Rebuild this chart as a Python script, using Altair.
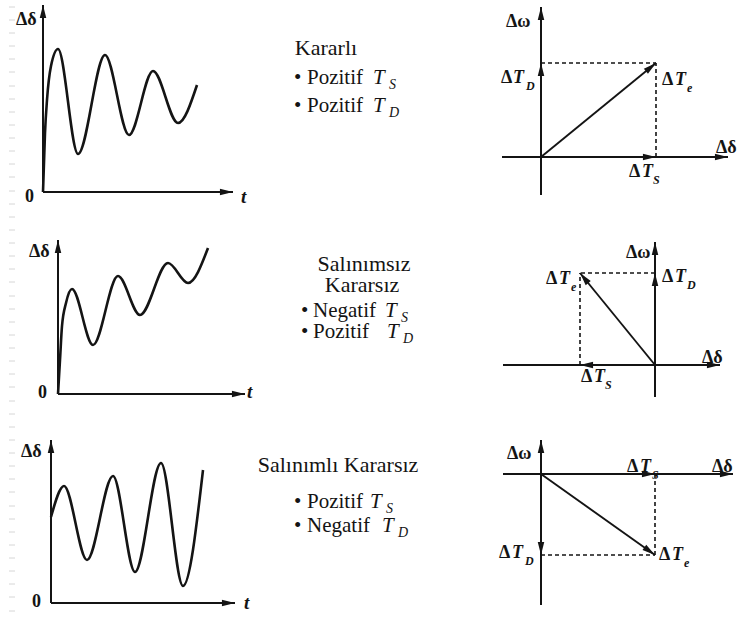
import math
import altair as alt
import pandas as pd

W, H = 739, 623
SERIF = "Liberation Serif"
INK = "#141414"

# ---- time responses Δδ(t) ----
# t and Δδ are measured from each panel's origin
t_kararli = [0, 2, 4, 8, 15, 35, 62, 86, 110, 135, 154]
d_kararli = [0, 59, 92, 126, 143, 38, 137, 57, 121, 69, 107]
t_salinimsiz = [0, 2, 4, 8, 14, 35, 60, 82, 110, 130, 150]
d_salinimsiz = [0, 34, 68, 91, 105, 49, 118, 79, 131, 111, 146]
t_salinimli = [0, 13, 36, 62, 84, 110, 132, 152]
d_salinimli = [86, 117, 43, 127, 31, 140, 17, 133]

# ---- torque components (ΔT_S along Δδ, ΔT_D along Δω) ----
ts_values = [115, -75, 114]
td_values = [94, 92, -81]

# ---- texts ----
headings = ["Kararlı", "Salınımsız", "Kararsız", "Salınımlı Kararsız"]
bullet_words = ["Pozitif", "Pozitif", "Negatif", "Pozitif", "Pozitif", "Negatif"]
bullet_subs = ["S", "D", "S", "D", "S", "D"]

# faint ruler marks along the left margin
ruler_y = [7, 20, 33, 46, 59, 72, 86, 99, 112, 125, 138, 151, 164, 177, 191,
           204, 217, 230, 243, 256, 269, 282, 296, 309, 322, 335, 348, 361,
           374, 387, 401, 414, 427, 440, 453, 466, 479, 492, 506, 519, 532,
           545, 558, 571, 584, 597, 611]

# ---- layout ----
resp_panels = [
    dict(ox=43, oy=192, up=187, right=190, t=t_kararli, d=d_kararli,
         lab=(16, 25), zero=(25, 202), tl=(241, 203)),
    dict(ox=58, oy=394, up=154, right=187, t=t_salinimsiz, d=d_salinimsiz,
         lab=(29, 257), zero=(38, 398), tl=(247, 398)),
    dict(ox=51, oy=603, up=163, right=184, t=t_salinimli, d=d_salinimli,
         lab=(21, 457), zero=(32, 607), tl=(244, 609)),
]
phasor_panels = [
    dict(ox=541, oy=157, down=38, up=150, left=39, right=187,
         w_lab=(506, 27), d_lab=(716, 153),
         TD=(501, 513, 526, 83), Te=(662, 675, 687, 85), TS=(629, 642, 653, 177)),
    dict(ox=655, oy=365, down=32, up=123, left=152, right=65,
         w_lab=(626, 258), d_lab=(702, 363),
         TD=(662, 675, 687, 282), Te=(546, 559, 571, 284), TS=(581, 594, 605, 382)),
    dict(ox=541, oy=474, down=131, up=34, left=38, right=192,
         w_lab=(507, 459), d_lab=(712, 472),
         TD=(499, 512, 525, 558), Te=(659, 672, 684, 560), TS=(627, 640, 652, 472)),
]
heading_pos = [(326, 55), (364, 271), (362, 292), (338, 472)]
# bullet x, word x, T x, subscript x, baseline
bullet_pos = [(294, 307, 373, 389, 84), (294, 307, 373, 389, 112),
              (301, 313, 385, 401, 317), (301, 313, 387, 403, 338),
              (294, 307, 370, 386, 508), (294, 307, 382, 398, 532)]

# ---- build tables ----
curve_rows, seg_rows, head_rows, text_rows = [], [], [], []


def head(x, y, dx, dy):
    """Arrowhead with its tip at (x, y), pointing along (dx, dy) in screen space."""
    ang = math.degrees(math.atan2(dx, -dy)) % 360
    head_rows.append(dict(x=x, y=y, ang=ang))


for k, p in enumerate(resp_panels):
    ox, oy = p["ox"], p["oy"]
    for i, (t, d) in enumerate(zip(p["t"], p["d"])):
        curve_rows.append(dict(panel=k, i=i, x=ox + t, y=oy - d))
    seg_rows.append(dict(kind="axis", x=ox, y=oy, x2=ox, y2=oy - p["up"]))
    seg_rows.append(dict(kind="axis", x=ox, y=oy, x2=ox + p["right"], y2=oy))
    head(ox, oy - p["up"], 0, -1)
    head(ox + p["right"], oy, 1, 0)
    text_rows.append(dict(x=p["lab"][0], y=p["lab"][1], label="Δδ", kind="lbl"))
    text_rows.append(dict(x=p["zero"][0], y=p["zero"][1], label="0", kind="lbl"))
    text_rows.append(dict(x=p["tl"][0], y=p["tl"][1], label="t", kind="tvar"))

for p, ts, td in zip(phasor_panels, ts_values, td_values):
    ox, oy = p["ox"], p["oy"]
    ex, ey = ox + ts, oy - td
    seg_rows.append(dict(kind="axis", x=ox, y=oy + p["down"], x2=ox, y2=oy - p["up"]))
    seg_rows.append(dict(kind="axis", x=ox - p["left"], y=oy, x2=ox + p["right"], y2=oy))
    seg_rows.append(dict(kind="vec", x=ox, y=oy, x2=ex, y2=ey))
    seg_rows.append(dict(kind="dash", x=ox, y=ey, x2=ex, y2=ey))
    seg_rows.append(dict(kind="dash", x=ex, y=oy, x2=ex, y2=ey))
    head(ox, oy - p["up"], 0, -1)
    head(ox + p["right"], oy, 1, 0)
    head(ox, ey, 0, -td)
    head(ex, oy, ts, 0)
    head(ex, ey, ts, -td)
    text_rows.append(dict(x=p["w_lab"][0], y=p["w_lab"][1], label="Δω", kind="lbl"))
    text_rows.append(dict(x=p["d_lab"][0], y=p["d_lab"][1], label="Δδ", kind="lbl"))
    for name, sub in (("TD", "D"), ("Te", "e"), ("TS", "S")):
        dx_, tx_, sx_, base = p[name]
        text_rows.append(dict(x=dx_, y=base, label="Δ", kind="lbl"))
        text_rows.append(dict(x=tx_, y=base, label="T", kind="lblT"))
        text_rows.append(dict(x=sx_, y=base + 7, label=sub, kind="lblSub"))

for txt, (x, y) in zip(headings, heading_pos):
    text_rows.append(dict(x=x, y=y, label=txt, kind="head"))
for word, sub, (bx, wx, tx, sx, base) in zip(bullet_words, bullet_subs, bullet_pos):
    text_rows.append(dict(x=bx, y=base, label="•", kind="body"))
    text_rows.append(dict(x=wx, y=base, label=word, kind="body"))
    text_rows.append(dict(x=tx, y=base, label="T", kind="bodyT"))
    text_rows.append(dict(x=sx, y=base + 5, label=sub, kind="bodySub"))

curves = pd.DataFrame(curve_rows)
segs = pd.DataFrame(seg_rows)
heads = pd.DataFrame(head_rows)
texts = pd.DataFrame(text_rows)
ruler = pd.DataFrame(dict(x=[9] * len(ruler_y), x2=[15] * len(ruler_y), y=ruler_y))

# ---- canvas scales ----
xs = alt.Scale(domain=[0, W], nice=False, zero=False)
ys = alt.Scale(domain=[0, H], nice=False, zero=False, reverse=True)
X = alt.X("x:Q", scale=xs, axis=None)
Y = alt.Y("y:Q", scale=ys, axis=None)

layers = []

layers.append(
    alt.Chart(ruler).mark_rule(color="#d6d6d6", strokeWidth=1)
    .encode(x=X, x2="x2:Q", y=Y)
)

seg_style = {
    "axis": dict(strokeWidth=2.0),
    "vec": dict(strokeWidth=1.9),
    "dash": dict(strokeWidth=1.6, strokeDash=[4, 3]),
}
for kind, st in seg_style.items():
    layers.append(
        alt.Chart(segs[segs.kind == kind]).mark_rule(color=INK, **st)
        .encode(x=X, y=Y, x2="x2:Q", y2="y2:Q")
    )

layers.append(
    alt.Chart(curves).mark_line(color=INK, strokeWidth=2.6, interpolate="monotone")
    .encode(x=X, y=Y, detail="panel:N", order="i:Q")
)

layers.append(
    alt.Chart(heads).mark_point(
        shape="M0,0L0.5,2L-0.5,2Z", filled=True, color=INK, opacity=1,
        size=170, strokeWidth=0,
    ).encode(x=X, y=Y, angle=alt.Angle("ang:Q", scale=None))
)

text_style = {
    "lbl": dict(fontSize=18, fontWeight="bold", align="left"),
    "lblT": dict(fontSize=18, fontWeight="bold", fontStyle="italic", align="left"),
    "lblSub": dict(fontSize=12, fontWeight="bold", fontStyle="italic", align="left"),
    "tvar": dict(fontSize=19, fontWeight="bold", fontStyle="italic", align="left"),
    "head": dict(fontSize=22, align="center"),
    "body": dict(fontSize=21, align="left"),
    "bodyT": dict(fontSize=21, fontStyle="italic", align="left"),
    "bodySub": dict(fontSize=14, fontStyle="italic", align="left"),
}
for key, st in text_style.items():
    sub = texts[texts["kind"] == key]
    layers.append(
        alt.Chart(sub).mark_text(font=SERIF, color=INK, baseline="alphabetic", **st)
        .encode(x=X, y=Y, text="label:N")
    )

chart = (
    alt.layer(*layers)
    .properties(width=W, height=H, padding=0, autosize=alt.AutoSizeParams(type="none"),
                background="white")
    .configure_view(stroke=None)
    .configure_text(font=SERIF)
)

chart.save("out.html", embed_options={"renderer": "svg", "actions": False})
